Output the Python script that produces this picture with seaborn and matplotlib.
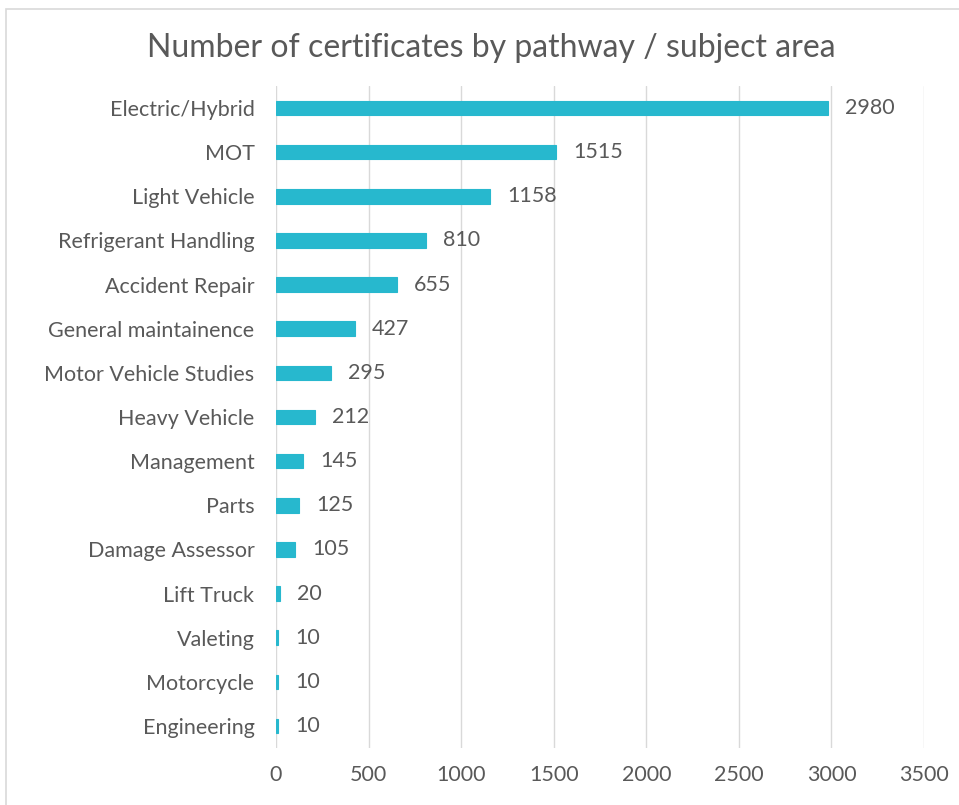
import matplotlib
matplotlib.use("Agg")
import matplotlib.pyplot as plt
import seaborn as sns
import pandas as pd
from matplotlib.patches import Rectangle

categories = ["Electric/Hybrid", "MOT", "Light Vehicle", "Refrigerant Handling",
              "Accident Repair", "General maintainence", "Motor Vehicle Studies",
              "Heavy Vehicle", "Management", "Parts", "Damage Assessor",
              "Lift Truck", "Valeting", "Motorcycle", "Engineering"]
values = [2980, 1515, 1158, 810, 655, 427, 295, 212, 145, 125, 105, 20, 10, 10, 10]
xticks = [0, 500, 1000, 1500, 2000, 2500, 3000, 3500]
title = "Number of certificates by pathway / subject area"

df = pd.DataFrame({"category": categories, "value": values})

sns.set_theme(style="white")
plt.rcParams["font.family"] = ["Lato", "DejaVu Sans"]

txt = "#595959"
bar_color = "#27B8CE"

fig = plt.figure(figsize=(9.59, 8.05), dpi=100)
fig.patch.set_facecolor("white")
# chart border
fig.patches.append(Rectangle((6/959, -0.01), 1.0, 1 - 9/805 + 0.01, transform=fig.transFigure,
                             fill=False, edgecolor="#D9D9D9", linewidth=1.2))

ax = fig.add_axes([276/959, 1 - 748/805, 648/959, (748 - 86)/805])
sns.barplot(data=df, x="value", y="category", color=bar_color, width=0.33,
            saturation=1, ax=ax, orient="h", edgecolor=bar_color, linewidth=0.8)

ax.set_xlim(0, 3500)
ax.set_xticks(xticks)
ax.set_xticklabels([str(t) for t in xticks])
ax.set_ylim(len(categories) - 0.5, -0.5)
ax.grid(axis="x", color="#D9D9D9", linewidth=1)
ax.set_axisbelow(True)
for s in ax.spines.values():
    s.set_visible(False)
ax.tick_params(axis="both", length=0, colors=txt, labelsize=15.5)
ax.tick_params(axis="x", pad=12)
ax.tick_params(axis="y", pad=15.5)
ax.set_xlabel("")
ax.set_ylabel("")

for i, v in enumerate(values):
    ax.annotate(str(v), (v, i), xytext=(17, 0), textcoords="offset pixels",
                va="center", ha="left", fontsize=15.5, color=txt)

fig.text(491/959, 1 - 48/805, title, ha="center", va="center", fontsize=23, color=txt)

fig.savefig("out.png", dpi=100)
